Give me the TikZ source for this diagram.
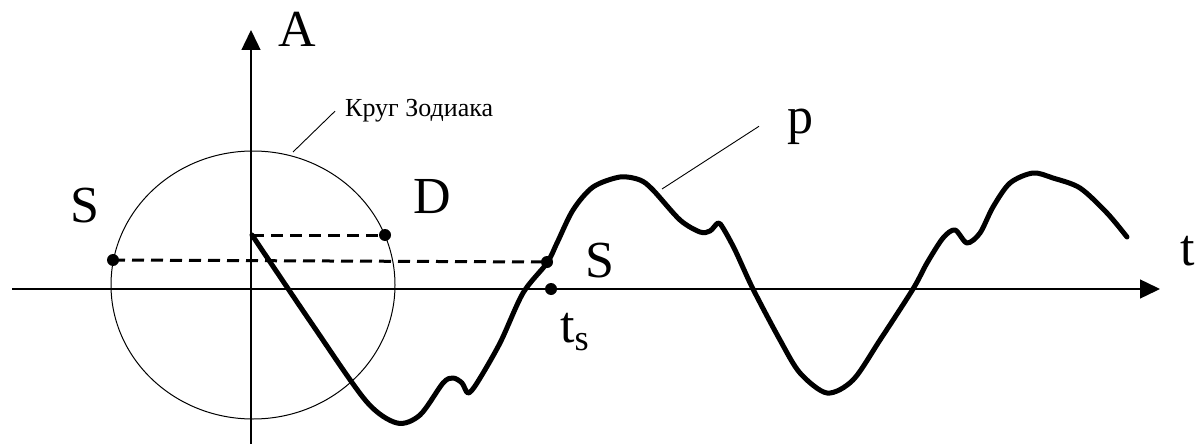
\documentclass[tikz,border=0pt]{standalone}
\usepackage{fontspec}
\setmainfont{Liberation Serif}
\usetikzlibrary{arrows.meta}

\begin{document}
\begin{tikzpicture}[x=1pt,y=-1pt,
      axis/.style={line width=1.4pt,-{Triangle[length=20pt,width=19pt]}},
      curve/.style={line width=5pt,line join=round,line cap=round},
      proj/.style={line width=3pt,dash pattern=on 12pt off 7pt},
      dot/.style={circle,fill,inner sep=0pt,minimum size=12pt},
      lbl/.style={font=\fontsize{52}{52}\selectfont,inner sep=0pt,anchor=base west},
      leader/.style={line width=0.9pt},
      ]
      \useasboundingbox (0,0) rectangle (1200,444);
      % axes
      \coordinate (tstart) at (12,289);
      \coordinate (tend) at (1160,289);
      \coordinate (abottom) at (251,446);
      \coordinate (atop) at (251,30);
      \draw[axis] (tstart) -- (tend);
      \draw[axis] (abottom) -- (atop);
      \node[lbl] (alab) at (278,47) {A};
      \node[lbl] (tlab) at (1180,265) {t};
      % zodiac circle
      \draw[line width=1pt] (253,285) ellipse [x radius=142, y radius=134];
      \coordinate (zc) at (293,152);
      \node[lbl,font=\fontsize{26}{26}\selectfont] (zod) at (345,117) {Круг Зодиака};
      \draw[leader] (zc) -- ([xshift=-10pt]zod.west);
      % points
      \coordinate (c0) at (252,235);
      \node[dot] (sl) at (113,260) {};
      \node[dot] (d) at (385,235) {};
      \node[dot] (sr) at (547,262) {};
      \node[dot] (ts) at (551,289) {};
      \node[lbl] (sllab) at (70,222) {S};
      \node[lbl] (dlab) at (413,213) {D};
      \node[lbl] (srlab) at (585,277) {S};
      \node[lbl] (tslab) at (560,342) {t\textsubscript{s}};
      \draw[proj] (c0) -- (d.center);
      \draw[proj] (sl.center) -- (sr.center);
      % the curve p
      \draw[curve] plot[smooth,tension=0.5] coordinates {
        (252,235) (312,324) (366,401) (397,423)
        (420,415) (443,383) (453,378) (462,383) (468,393) (477,383) (500,343)
        (523,293) (547,263) (557,243) (573,210) (593,187) (620,177) (640,180)
        (653,190) (680,220) (700,232) (710,231) (718,223) (723,228) (735,250)
        (753,289) (780,340) (800,373) (827,393) (853,380) (880,340) (913,289)
        (927,263) (943,238) (955,230) (967,243) (980,233) (993,207) (1010,183)
        (1033,173) (1053,178) (1080,188) (1107,213) (1127,237)};
      \coordinate (pc) at (662,189);
      \node[lbl] (plab) at (787,133) {p};
      \draw[leader] (pc) -- ([xshift=-28pt]plab.west);
    \end{tikzpicture}
\end{document}
